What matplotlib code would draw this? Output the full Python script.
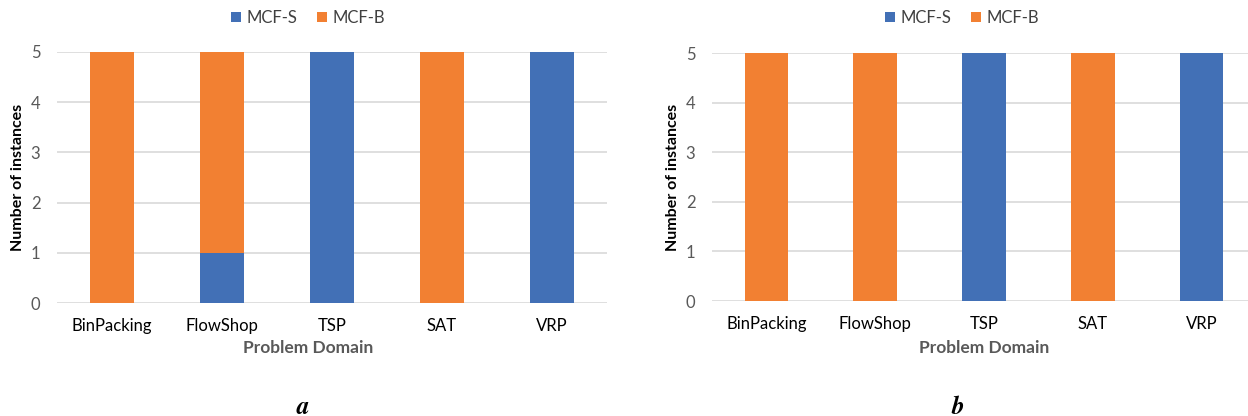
import matplotlib
matplotlib.use('Agg')
import matplotlib.pyplot as plt
import numpy as np

plt.rcParams['font.family'] = ['Lato', 'DejaVu Sans']
plt.rcParams['mathtext.fontset'] = 'cm'

domains = ['BinPacking', 'FlowShop', 'TSP', 'SAT', 'VRP']

# panel a
mcf_s_a = [0, 1, 5, 0, 5]
mcf_b_a = [5, 4, 0, 5, 0]

# panel b
mcf_s_b = [0, 0, 5, 0, 5]
mcf_b_b = [5, 5, 0, 5, 0]

BLUE = '#4270B6'
ORANGE = '#F28032'
GRID = '#D9D9D9'
TICK = '#595959'

W, H = 1248, 416
fig = plt.figure(figsize=(W / 100, H / 100), dpi=100)


def px_axes(x0, x1, ytop, ybot):
    return fig.add_axes([x0 / W, (H - ybot) / H, (x1 - x0) / W, (ybot - ytop) / H])


def draw_panel(ax, s_vals, b_vals, legend_x, xlabel_x, ylabel_x, caption, caption_x):
    x = np.arange(len(domains))
    s_vals = np.array(s_vals)
    b_vals = np.array(b_vals)
    ax.bar(x, s_vals, width=0.4, color=BLUE, label='MCF-S', zorder=3)
    ax.bar(x, b_vals, width=0.4, bottom=s_vals, color=ORANGE, label='MCF-B', zorder=3)

    ax.set_xlim(-0.5, len(domains) - 0.5)
    ax.set_ylim(0, 5)
    ax.set_yticks(range(6))
    ax.set_xticks(x)
    ax.set_xticklabels(domains, fontsize=12, color='black')
    ax.tick_params(axis='x', length=0, pad=11)
    ax.tick_params(axis='y', length=0, pad=12, labelsize=12, labelcolor=TICK)
    ax.grid(axis='y', color=GRID, linewidth=1.2, zorder=0)
    for sp in ax.spines.values():
        sp.set_visible(False)

    fig.text(ylabel_x / W, (H - 177) / H, 'Number of instances', rotation=90,
             ha='center', va='center', fontsize=11.5, fontweight='bold', color='black')
    fig.text(xlabel_x / W, (H - 348) / H, 'Problem Domain', ha='center', va='center',
             fontsize=12.5, fontweight='bold', color=TICK)
    fig.text(caption_x / W, (H - 406) / H, caption, ha='center', va='center',
             fontsize=18, color='black')

    ax.legend(loc='center', bbox_to_anchor=(legend_x / W, (H - 18) / H),
              bbox_transform=fig.transFigure, ncol=2, frameon=False,
              fontsize=12, handlelength=0.6, handleheight=0.6,
              handletextpad=0.3, columnspacing=1.2, labelcolor='#404040')


ax_a = px_axes(57, 607, 52, 303)
draw_panel(ax_a, mcf_s_a, mcf_b_a, 308, 308, 18, r'$\boldsymbol{a}$', 303)

ax_b = px_axes(712, 1256, 53, 301)
draw_panel(ax_b, mcf_s_b, mcf_b_b, 962, 984, 673, r'$\boldsymbol{b}$', 958)

fig.savefig('out.png', dpi=100)
